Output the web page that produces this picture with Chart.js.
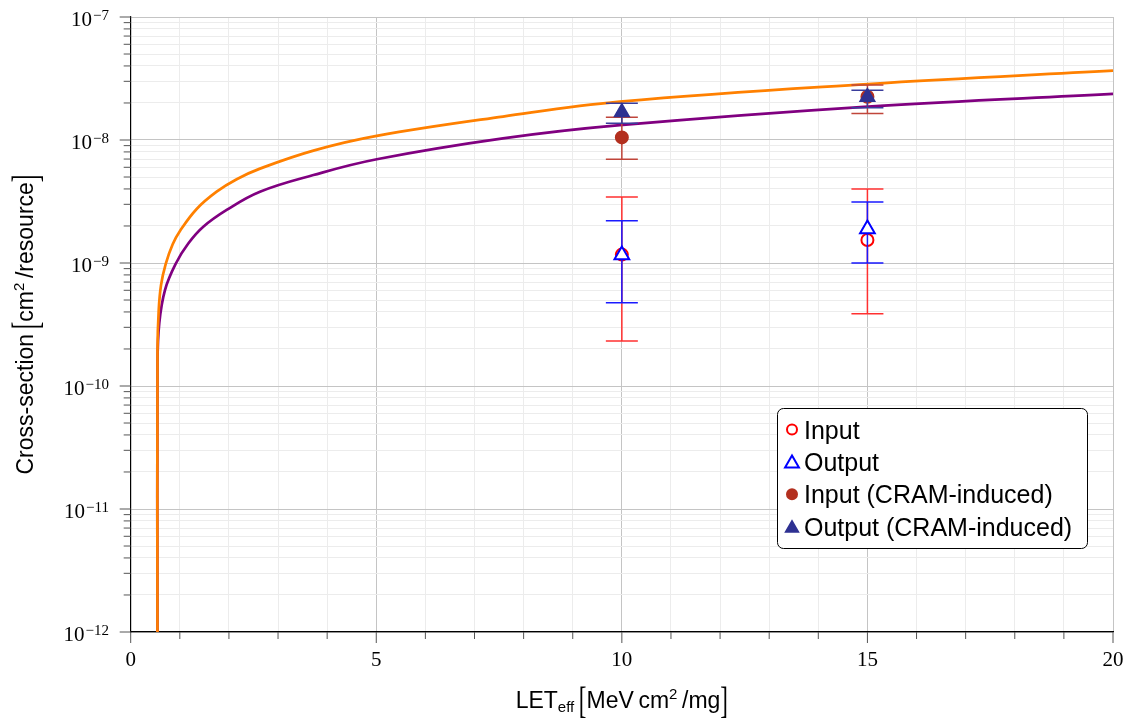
<!DOCTYPE html>
<html>
<head>
<meta charset="utf-8">
<script src="https://cdn.jsdelivr.net/npm/chart.js@4/dist/chart.umd.min.js"></script>
<style>
  html, body { margin: 0; padding: 0; background: #fff; }
  #wrap { width: 1131px; height: 722px; position: relative; }
</style>
</head>
<body>
<div id="wrap"><canvas id="xsChart"></canvas></div>
<script>
// Weibull fit curves (LET in MeV cm2/mg, cross-section in cm2/resource)
const fitUpperLET = [0.545, 0.546, 0.57, 0.617, 0.712, 0.855, 1.003, 1.343, 1.75, 2.158, 2.632, 3.72, 5.01, 7.58, 9.96, 15.01, 20];
const fitUpperXS = [1e-12, 1.96e-10, 4.1e-10, 6.6e-10, 9.8e-10, 1.42e-9, 1.82e-9, 2.75e-9, 3.8e-9, 4.8e-9, 5.85e-9, 8.2e-9, 1.08e-8, 1.55e-8, 2.05e-8, 2.85e-8, 3.66e-8];
const fitLowerLET = [0.545, 0.546, 0.582, 0.698, 0.922, 1.172, 1.478, 1.954, 2.632, 3.72, 5.01, 7.58, 9.96, 15.01, 20];
const fitLowerXS = [1e-12, 1.54e-10, 3.25e-10, 6.03e-10, 9.95e-10, 1.44e-9, 1.97e-9, 2.70e-9, 3.80e-9, 5.19e-9, 6.97e-9, 1.03e-8, 1.32e-8, 1.87e-8, 2.37e-8];

// measured points, with lower / upper error limits
const testLET = [10, 15];
const inputXS = [1.17e-9, 1.54e-9];
const inputLow = [2.32e-10, 3.87e-10];
const inputHigh = [3.44e-9, 4.0e-9];
const outputXS = [1.16e-9, 1.89e-9];
const outputLow = [4.75e-10, 1.0e-9];
const outputHigh = [2.21e-9, 3.13e-9];
const inputCramXS = [1.05e-8, 2.25e-8];
const inputCramLow = [6.97e-9, 1.64e-8];
const inputCramHigh = [1.53e-8, 2.80e-8];
const outputCramXS = [1.68e-8, 2.24e-8];
const outputCramLow = [1.37e-8, 1.83e-8];
const outputCramHigh = [1.99e-8, 2.54e-8];

const xTickValues = [0, 5, 10, 15, 20];
const yDecades = [1e-12, 1e-11, 1e-10, 1e-9, 1e-8, 1e-7];
const yExponents = ['\u221212', '\u221211', '\u221210', '\u22129', '\u22128', '\u22127'];

const SERIF = '"Liberation Serif", "Times New Roman", serif';
const SANS = '"Liberation Sans", Arial, sans-serif';

function toXY(xs, ys) {
    return xs.map((x, i) => ({ x: x, y: ys[i] }));
}

// log ticks: every integer mantissa inside each decade
const yTicks = [];
yDecades.forEach((d, i) => {
    if (i === yDecades.length - 1) { yTicks.push(d); return; }
    for (let m = 1; m <= 9; m++) yTicks.push(m * d);
});

function isDecade(v) {
    const l = Math.log10(v);
    return Math.abs(l - Math.round(l)) < 1e-6;
}

function pointMarker(color, style, radius, fill) {
    return {
        type: 'scatter',
        showLine: false,
        pointStyle: style,
        pointRadius: radius,
        pointHoverRadius: radius,
        pointBorderWidth: 2,
        pointBorderColor: color,
        pointBackgroundColor: fill
    };
}

const datasets = [
    Object.assign(pointMarker('#2e3192', 'triangle', 8, '#2e3192'), {
        label: 'Output (CRAM-induced)', data: toXY(testLET, outputCramXS),
        errLow: outputCramLow, errHigh: outputCramHigh, errColor: '#3a3d9c', order: 0, legendRadius: 7
    }),
    Object.assign(pointMarker('#b3301f', 'circle', 6, '#b3301f'), {
        label: 'Input (CRAM-induced)', data: toXY(testLET, inputCramXS),
        errLow: inputCramLow, errHigh: inputCramHigh, errColor: '#c0453a', order: 1, legendRadius: 5
    }),
    Object.assign(pointMarker('#0000ff', 'triangle', 8.5, '#ffffff'), {
        label: 'Output', data: toXY(testLET, outputXS),
        errLow: outputLow, errHigh: outputHigh, errColor: '#1a1aff', order: 2, legendRadius: 8
    }),
    Object.assign(pointMarker('#ff0000', 'circle', 6, '#ffffff'), {
        label: 'Input', data: toXY(testLET, inputXS),
        errLow: inputLow, errHigh: inputHigh, errColor: '#ff3030', order: 3, legendRadius: 5
    }),
    {
        type: 'line', label: 'fit-upper', data: toXY(fitUpperLET, fitUpperXS),
        borderColor: '#ff8000', borderWidth: 2.7, pointRadius: 0, fill: false,
        tension: 0.4, order: 4
    },
    {
        type: 'line', label: 'fit-lower', data: toXY(fitLowerLET, fitLowerXS),
        borderColor: '#800080', borderWidth: 2.7, pointRadius: 0, fill: false,
        tension: 0.4, order: 5
    }
];

const legendOrder = ['Input', 'Output', 'Input (CRAM-induced)', 'Output (CRAM-induced)'];

// same geometry as the chart markers
function drawMarker(ctx, style, x, y, r) {
    ctx.beginPath();
    if (style === 'circle') {
        ctx.arc(x, y, r, 0, Math.PI * 2);
    } else {
        for (let k = 0; k < 3; k++) {
            const a = k * 2 * Math.PI / 3;
            const px = x + Math.sin(a) * r, py = y - Math.cos(a) * r;
            if (k === 0) ctx.moveTo(px, py); else ctx.lineTo(px, py);
        }
        ctx.closePath();
    }
    ctx.fill();
    ctx.stroke();
}

// draws a run of text pieces (sub/superscripts, stretched brackets) centred on cx
function drawRich(ctx, parts, cx, baseY) {
    let total = 0;
    parts.forEach(p => { ctx.font = p.font; p.w = ctx.measureText(p.text).width; total += p.w; });
    let x = cx - total / 2;
    parts.forEach(p => {
        ctx.font = p.font;
        ctx.textAlign = 'left';
        ctx.textBaseline = 'alphabetic';
        if (p.stretch) {
            ctx.save();
            ctx.translate(x, baseY + (p.dy || 0));
            ctx.scale(1, p.stretch);
            ctx.fillText(p.text, 0, 0);
            ctx.restore();
        } else {
            ctx.fillText(p.text, x, baseY + (p.dy || 0));
        }
        x += p.w;
    });
}

const errorBars = {
    id: 'errorBars',
    beforeDatasetDraw(chart, args) {
        const ds = chart.data.datasets[args.index];
        if (!ds.errLow) return;
        const ctx = chart.ctx, yScale = chart.scales.y;
        ctx.save();
        ctx.strokeStyle = ds.errColor;
        ctx.lineWidth = 1.5;
        args.meta.data.forEach((pt, i) => {
            const yl = yScale.getPixelForValue(ds.errLow[i]);
            const yh = yScale.getPixelForValue(ds.errHigh[i]);
            ctx.beginPath();
            ctx.moveTo(pt.x, yl); ctx.lineTo(pt.x, yh);
            ctx.moveTo(pt.x - 16, yl); ctx.lineTo(pt.x + 16, yl);
            ctx.moveTo(pt.x - 16, yh); ctx.lineTo(pt.x + 16, yh);
            ctx.stroke();
        });
        ctx.restore();
    }
};

const axisDecor = {
    id: 'axisDecor',
    afterDraw(chart) {
        const ctx = chart.ctx;
        const area = chart.chartArea;
        const x = chart.scales.x, y = chart.scales.y;
        ctx.save();
        ctx.strokeStyle = '#555';
        ctx.lineWidth = 1;

        // tick marks outside the axes
        ctx.beginPath();
        x.ticks.forEach(t => {
            const px = x.getPixelForValue(t.value);
            const len = t.value % 5 === 0 ? 11 : 7;
            ctx.moveTo(px, area.bottom); ctx.lineTo(px, area.bottom + len);
        });
        y.ticks.forEach(t => {
            const py = y.getPixelForValue(t.value);
            const len = isDecade(t.value) ? 11 : 7;
            ctx.moveTo(area.left, py); ctx.lineTo(area.left - len, py);
        });
        ctx.stroke();

        // x tick labels
        ctx.fillStyle = '#000';
        ctx.font = '21px ' + SERIF;
        ctx.textAlign = 'center';
        ctx.textBaseline = 'alphabetic';
        xTickValues.forEach(v => ctx.fillText(String(v), x.getPixelForValue(v), 666));

        // y tick labels as 10^n
        yDecades.forEach((d, i) => {
            const py = y.getPixelForValue(d);
            ctx.font = '15px ' + SERIF;
            ctx.textAlign = 'right';
            const ew = ctx.measureText(yExponents[i]).width;
            ctx.fillText(yExponents[i], 109, py + 3);
            ctx.font = '21px ' + SERIF;
            ctx.fillText('10', 109 - ew - 1, py + 9);
        });

        // axis titles
        const big = '23px ' + SANS, small = '15px ' + SANS;
        drawRich(ctx, [
            { text: 'LET', font: big },
            { text: 'eff', font: small, dy: 4 },
            { text: '\u2009', font: big },
            { text: '[', font: '23px ' + SERIF, stretch: 1.65, dy: 5 },
            { text: 'MeV\u2009cm', font: big },
            { text: '2', font: small, dy: -9 },
            { text: '\u2009/mg', font: big },
            { text: ']', font: '23px ' + SERIF, stretch: 1.65, dy: 5 }
        ], (area.left + area.right) / 2, 708);

        ctx.save();
        ctx.translate(33, (area.top + area.bottom) / 2);
        ctx.rotate(-Math.PI / 2);
        drawRich(ctx, [
            { text: 'Cross-section\u2009', font: big },
            { text: '[', font: '23px ' + SERIF, stretch: 1.65, dy: 5 },
            { text: 'cm', font: big },
            { text: '2', font: small, dy: -9 },
            { text: '\u2009/resource', font: big },
            { text: ']', font: '23px ' + SERIF, stretch: 1.65, dy: 5 }
        ], 0, 0);
        ctx.restore();

        // legend box
        const bx = 777.5, by = 408.5, bw = 310, bh = 140, r = 6;
        ctx.beginPath();
        ctx.moveTo(bx + r, by);
        ctx.arcTo(bx + bw, by, bx + bw, by + bh, r);
        ctx.arcTo(bx + bw, by + bh, bx, by + bh, r);
        ctx.arcTo(bx, by + bh, bx, by, r);
        ctx.arcTo(bx, by, bx + bw, by, r);
        ctx.closePath();
        ctx.fillStyle = '#fff';
        ctx.fill();
        ctx.strokeStyle = '#000';
        ctx.lineWidth = 1;
        ctx.stroke();

        legendOrder.forEach((name, i) => {
            const ds = chart.data.datasets.find(d => d.label === name);
            const rowY = 429.5 + i * 32.4;
            ctx.fillStyle = ds.pointBackgroundColor;
            ctx.strokeStyle = ds.pointBorderColor;
            ctx.lineWidth = 2;
            drawMarker(ctx, ds.pointStyle, 792, rowY + (ds.pointStyle === 'triangle' ? 1.5 : 0), ds.legendRadius);
            ctx.fillStyle = '#000';
            ctx.font = '25px ' + SANS;
            ctx.textAlign = 'left';
            ctx.fillText(name, 804, rowY + 9);
        });
        ctx.restore();
    }
};

new Chart(document.getElementById('xsChart'), {
    data: { datasets: datasets },
    options: {
        responsive: true,
        maintainAspectRatio: false,
        animation: false,
        layout: { padding: { top: 17, right: 18, left: 0, bottom: 0 } },
        plugins: {
            legend: { display: false },
            tooltip: { enabled: false }
        },
        scales: {
            x: {
                type: 'linear',
                min: 0,
                max: 20,
                ticks: { display: false, stepSize: 1 },
                grid: {
                    drawTicks: false,
                    color: c => (c.tick && c.tick.value % 5 === 0) ? '#c4c4c4' : '#ececec',
                    lineWidth: 1
                },
                border: { color: '#000', width: 1.2 },
                afterFit: s => { s.height = 90; }
            },
            y: {
                type: 'logarithmic',
                min: 1e-12,
                max: 1e-7,
                afterBuildTicks: s => { s.ticks = yTicks.map(v => ({ value: v })); },
                ticks: { display: false },
                grid: {
                    drawTicks: false,
                    color: c => (c.tick && isDecade(c.tick.value)) ? '#c4c4c4' : '#ececec',
                    lineWidth: 1
                },
                border: { color: '#000', width: 1.2 },
                afterFit: s => { s.width = 130.7; }
            }
        }
    },
    plugins: [errorBars, axisDecor]
});
</script>
</body>
</html>
